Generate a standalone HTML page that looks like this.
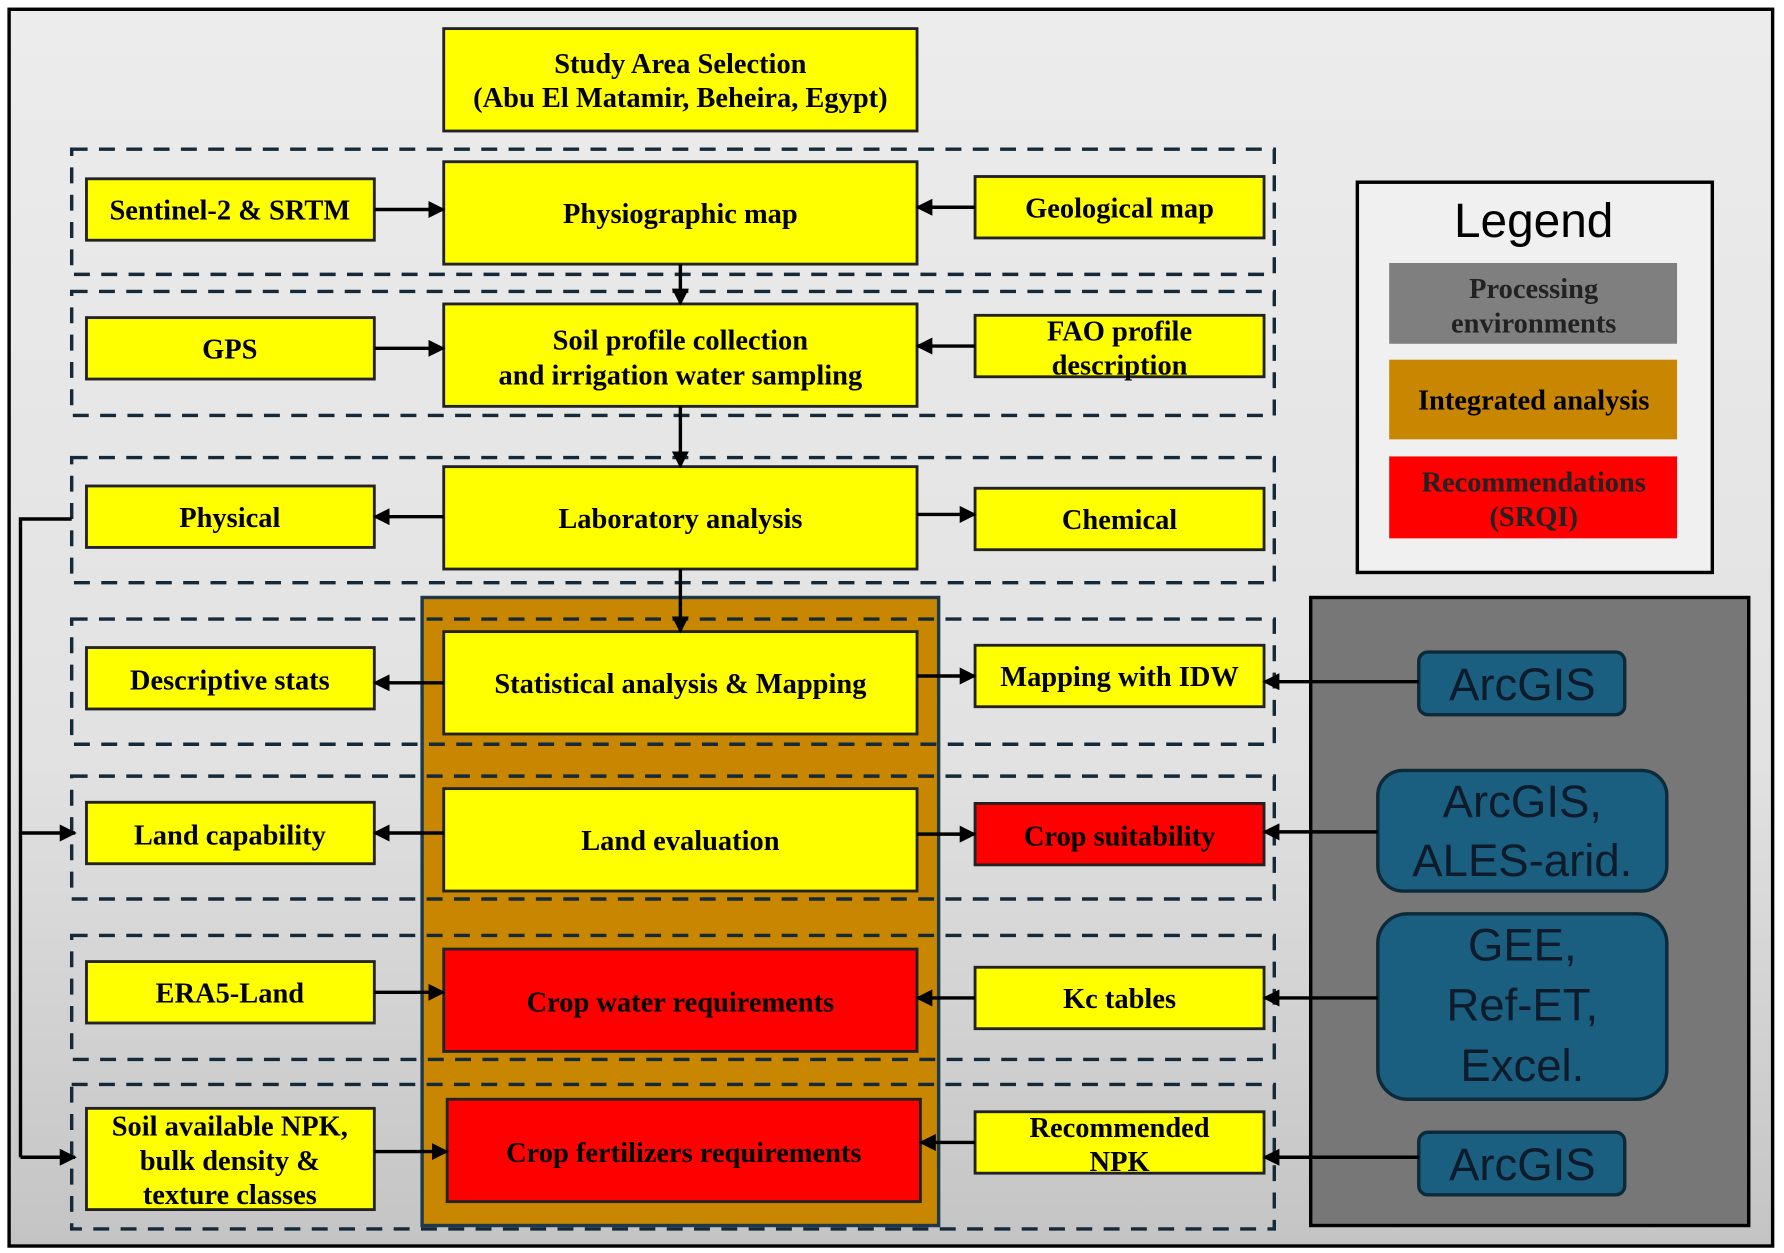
<!DOCTYPE html>
<html><head><meta charset="utf-8"><style>
html,body{margin:0;padding:0;background:#fff;}
svg{display:block}
.b{font-family:"Liberation Serif",serif;font-weight:bold;font-size:25px;text-anchor:middle;fill:#000}
.s{font-family:"Liberation Sans",sans-serif;text-anchor:middle;fill:#0d1b2a}
</style></head><body>
<svg width="1784" height="1253" viewBox="0 0 1568 1101" xmlns="http://www.w3.org/2000/svg">
<defs>
<linearGradient id="bg" x1="0" y1="0" x2="0" y2="1"><stop offset="0" stop-color="#ececec"/><stop offset="0.6" stop-color="#e2e2e2"/><stop offset="1" stop-color="#c4c4c4"/></linearGradient>
<marker id="a" viewBox="0 0 10 10" refX="9" refY="5" markerWidth="5" markerHeight="5" orient="auto"><path d="M0,0 L10,5 L0,10 z" fill="#000"/></marker>
</defs>
<rect x="8" y="8" width="1550" height="1087" fill="url(#bg)" stroke="#000" stroke-width="3"/>
<rect x="371" y="525" width="454" height="552" fill="#c98600" stroke="#1e3a4a" stroke-width="3"/>
<rect x="1152" y="525" width="385" height="552" fill="#777" stroke="#000" stroke-width="3"/>
<g fill="none" stroke="#142a3a" stroke-width="3" stroke-dasharray="14,10">
<rect x="63" y="131" width="1057" height="110"/>
<rect x="63" y="256" width="1057" height="109"/>
<rect x="63" y="402" width="1057" height="110"/>
<rect x="63" y="544" width="1057" height="110"/>
<rect x="63" y="682" width="1057" height="108"/>
<rect x="63" y="822" width="1057" height="109"/>
<rect x="63" y="953" width="1057" height="127"/>
</g>
<g stroke="#222" stroke-width="2.5">
<rect x="390" y="25" width="416" height="90" fill="#ffff00"/>
<rect x="76" y="157" width="253" height="54" fill="#ffff00"/>
<rect x="390" y="142" width="416" height="90" fill="#ffff00"/>
<rect x="857" y="155" width="254" height="54" fill="#ffff00"/>
<rect x="76" y="279" width="253" height="54" fill="#ffff00"/>
<rect x="390" y="267" width="416" height="90" fill="#ffff00"/>
<rect x="857" y="277" width="254" height="54" fill="#ffff00"/>
<rect x="76" y="427" width="253" height="54" fill="#ffff00"/>
<rect x="390" y="410" width="416" height="90" fill="#ffff00"/>
<rect x="857" y="429" width="254" height="54" fill="#ffff00"/>
<rect x="76" y="569" width="253" height="54" fill="#ffff00"/>
<rect x="390" y="555" width="416" height="90" fill="#ffff00"/>
<rect x="857" y="567" width="254" height="54" fill="#ffff00"/>
<rect x="76" y="705" width="253" height="54" fill="#ffff00"/>
<rect x="390" y="693" width="416" height="90" fill="#ffff00"/>
<rect x="857" y="706" width="254" height="54" fill="#ff0000"/>
<rect x="76" y="845" width="253" height="54" fill="#ffff00"/>
<rect x="390" y="834" width="416" height="90" fill="#ff0000"/>
<rect x="857" y="850" width="254" height="54" fill="#ffff00"/>
<rect x="76" y="974" width="253" height="89" fill="#ffff00"/>
<rect x="393" y="966" width="416" height="90" fill="#ff0000"/>
<rect x="857" y="977" width="254" height="54" fill="#ffff00"/>
</g>
<g class="b">
<text x="598" y="64">Study Area Selection</text><text x="598" y="94">(Abu El Matamir, Beheira, Egypt)</text>
<text x="202" y="193">Sentinel-2 &amp; SRTM</text>
<text x="598" y="196">Physiographic map</text>
<text x="984" y="191">Geological map</text>
<text x="202" y="315">GPS</text>
<text x="598" y="307">Soil profile collection</text><text x="598" y="338">and irrigation water sampling</text>
<text x="984" y="299">FAO profile</text><text x="984" y="329">description</text>
<text x="202" y="463">Physical</text>
<text x="598" y="464">Laboratory analysis</text>
<text x="984" y="465">Chemical</text>
<text x="202" y="606">Descriptive stats</text>
<text x="598" y="609">Statistical analysis &amp; Mapping</text>
<text x="984" y="603">Mapping with IDW</text>
<text x="202" y="742">Land capability</text>
<text x="598" y="747">Land evaluation</text>
<text x="984" y="743">Crop suitability</text>
<text x="202" y="881">ERA5-Land</text>
<text x="598" y="889">Crop water requirements</text>
<text x="984" y="886">Kc tables</text>
<text x="202" y="998">Soil available NPK,</text><text x="202" y="1028">bulk density &amp;</text><text x="202" y="1058">texture classes</text>
<text x="601" y="1021">Crop fertilizers requirements</text>
<text x="984" y="999">Recommended</text><text x="984" y="1029">NPK</text>
</g>
<rect x="1193" y="160" width="312" height="343" fill="#f0f0f0" stroke="#000" stroke-width="3"/>
<text x="1348" y="208" class="s" font-size="42" style="fill:#000">Legend</text>
<rect x="1221" y="231" width="253" height="71" fill="#7f7f7f"/>
<rect x="1221" y="316" width="253" height="70" fill="#c98600"/>
<rect x="1221" y="401" width="253" height="72" fill="#ff0000"/>
<g class="b">
<text x="1348" y="262" style="fill:#222">Processing</text><text x="1348" y="292" style="fill:#222">environments</text>
<text x="1348" y="360">Integrated analysis</text>
<text x="1348" y="432" style="fill:#222">Recommendations</text><text x="1348" y="462" style="fill:#222">(SRQI)</text>
</g>
<g fill="#1a5e80" stroke="#0d2a3a" stroke-width="3">
<rect x="1247" y="573" width="181" height="55" rx="8"/>
<rect x="1211" y="677" width="254" height="106" rx="22"/>
<rect x="1211" y="803" width="254" height="163" rx="26"/>
<rect x="1247" y="995" width="181" height="55" rx="8"/>
</g>
<g class="s" font-size="40">
<text x="1338" y="615">ArcGIS</text>
<text x="1338" y="718">ArcGIS,</text><text x="1338" y="770">ALES-arid.</text>
<text x="1338" y="844">GEE,</text><text x="1338" y="897">Ref-ET,</text><text x="1338" y="950">Excel.</text>
<text x="1338" y="1037">ArcGIS</text>
</g>
<g stroke="#000" stroke-width="3" fill="none" marker-end="url(#a)">
<line x1="329" y1="184" x2="390" y2="184"/>
<line x1="857" y1="182" x2="806" y2="182"/>
<line x1="598" y1="232" x2="598" y2="267"/>
<line x1="329" y1="306" x2="390" y2="306"/>
<line x1="857" y1="304" x2="806" y2="304"/>
<line x1="598" y1="357" x2="598" y2="410"/>
<line x1="390" y1="454" x2="329" y2="454"/>
<line x1="806" y1="452" x2="857" y2="452"/>
<line x1="598" y1="500" x2="598" y2="555"/>
<line x1="390" y1="600" x2="329" y2="600"/>
<line x1="806" y1="594" x2="857" y2="594"/>
<line x1="390" y1="732" x2="329" y2="732"/>
<line x1="806" y1="733" x2="857" y2="733"/>
<line x1="329" y1="872" x2="390" y2="872"/>
<line x1="857" y1="877" x2="806" y2="877"/>
<line x1="329" y1="1012" x2="393" y2="1012"/>
<line x1="857" y1="1004" x2="809" y2="1004"/>
<line x1="1247" y1="599" x2="1111" y2="599"/>
<line x1="1211" y1="731" x2="1111" y2="731"/>
<line x1="1211" y1="877" x2="1111" y2="877"/>
<line x1="1247" y1="1017" x2="1111" y2="1017"/>
<line x1="18" y1="732" x2="66" y2="732"/>
<polyline points="18,1017 66,1017"/>
</g>
<polyline points="63,456 18,456 18,1017" stroke="#000" stroke-width="3" fill="none"/>
</svg>
</body></html>
